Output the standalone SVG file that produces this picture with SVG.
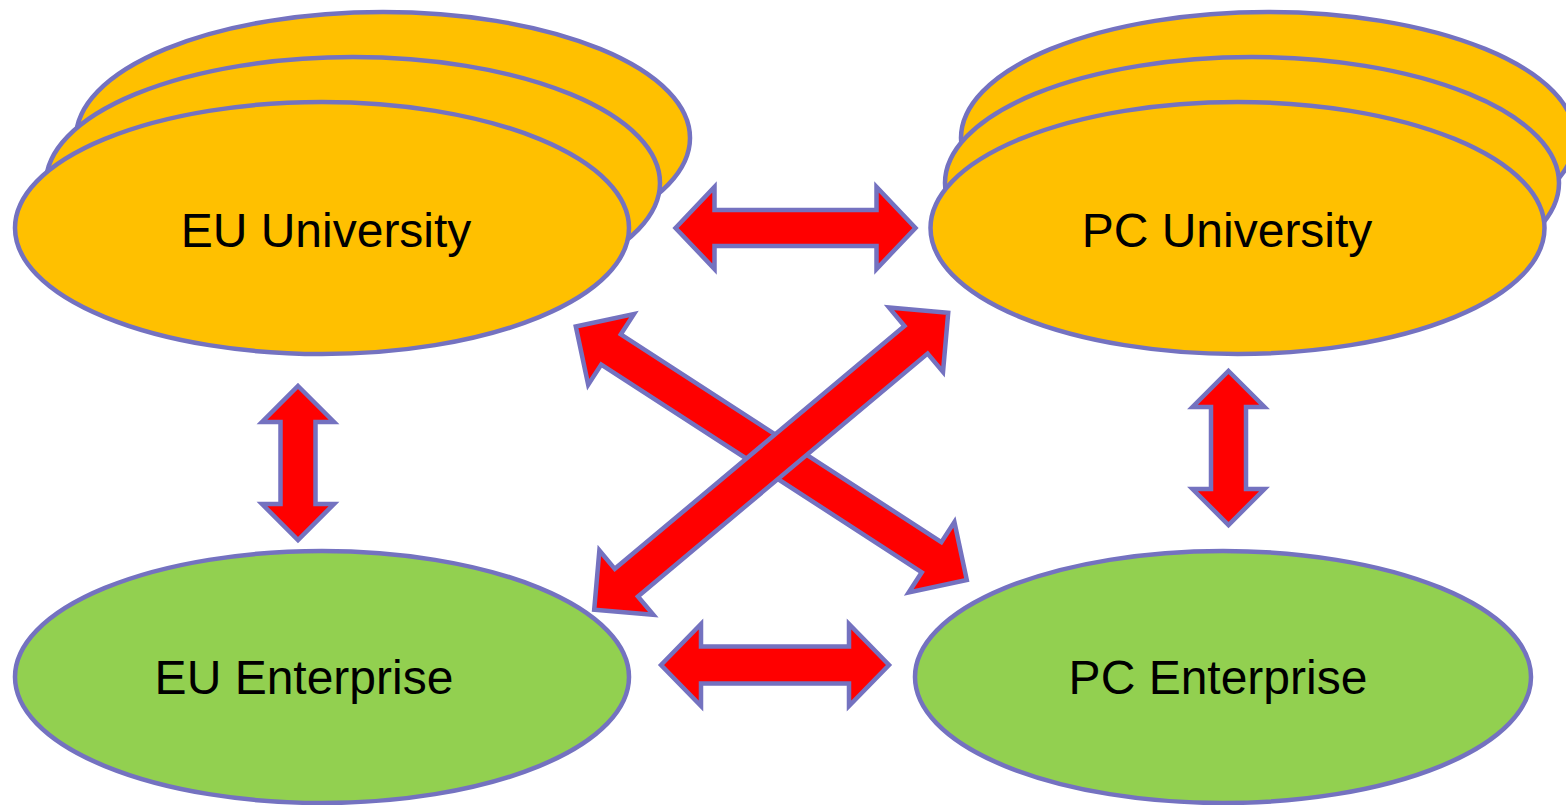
<svg xmlns="http://www.w3.org/2000/svg" width="1566" height="805" viewBox="0 0 1566 805">
  <style>
    .uni { fill: #FFC000; stroke: #7472C0; stroke-width: 4.5; }
    .ent { fill: #92D050; stroke: #7472C0; stroke-width: 4.5; }
    .lbl { font-family: "Liberation Sans", Arial, sans-serif; font-size: 48px; fill: #000000; text-anchor: middle; }
    .arr { fill: #FF0000; stroke: #7472C0; stroke-width: 4.5; stroke-linejoin: miter; stroke-miterlimit: 10; }
  </style>
  <rect x="0" y="0" width="1566" height="805" fill="#FFFFFF"/>

  <!-- EU university: stacked ellipses -->
  <g id="eu-university">
    <ellipse class="uni" cx="383" cy="138" rx="307" ry="126"/>
    <ellipse class="uni" cx="353" cy="183" rx="307" ry="126"/>
    <ellipse class="uni" cx="322" cy="228" rx="307" ry="126"/>
    <text class="lbl" x="326" y="247">EU University</text>
  </g>

  <!-- PC university: stacked ellipses -->
  <g id="pc-university">
    <ellipse class="uni" cx="1268" cy="138" rx="307" ry="126"/>
    <ellipse class="uni" cx="1252" cy="183" rx="307" ry="126"/>
    <ellipse class="uni" cx="1237.5" cy="228" rx="307" ry="126"/>
    <text class="lbl" x="1227" y="247">PC University</text>
  </g>

  <g id="eu-enterprise">
    <ellipse class="ent" cx="322" cy="677" rx="307" ry="126"/>
    <text class="lbl" x="304" y="694">EU Enterprise</text>
  </g>

  <g id="pc-enterprise">
    <ellipse class="ent" cx="1223" cy="677" rx="308" ry="126"/>
    <text class="lbl" x="1218" y="694">PC Enterprise</text>
  </g>

  <!-- double-headed block arrows -->
  <g id="connectors">
    <path class="arr" transform="translate(795.5,228)" d="M -120 0 L -81 -41 L -81 -18 L 81 -18 L 81 -41 L 120 0 L 81 41 L 81 18 L -81 18 L -81 41 Z"/>
    <path class="arr" transform="translate(775,665)" d="M -114 0 L -74 -41 L -74 -18.5 L 74 -18.5 L 74 -41 L 114 0 L 74 41 L 74 18.5 L -74 18.5 L -74 41 Z"/>
    <path class="arr" transform="translate(298,463) rotate(90)" d="M -77 0 L -41 -36 L -41 -17.5 L 41 -17.5 L 41 -36 L 77 0 L 41 36 L 41 17.5 L -41 17.5 L -41 36 Z"/>
    <path class="arr" transform="translate(1228.5,448) rotate(90)" d="M -77 0 L -41 -36 L -41 -17.5 L 41 -17.5 L 41 -36 L 77 0 L 41 36 L 41 17.5 L -41 17.5 L -41 36 Z"/>
    <path class="arr" transform="translate(771.3,453.3) rotate(32.96)" d="M -233 0 L -191 -42 L -191 -18 L 191 -18 L 191 -42 L 233 0 L 191 42 L 191 18 L -191 18 L -191 42 Z"/>
    <path class="arr" transform="translate(771.2,461.2) rotate(-39.98)" d="M -231 0 L -189 -42 L -189 -18 L 189 -18 L 189 -42 L 231 0 L 189 42 L 189 18 L -189 18 L -189 42 Z"/>
  </g>
</svg>
